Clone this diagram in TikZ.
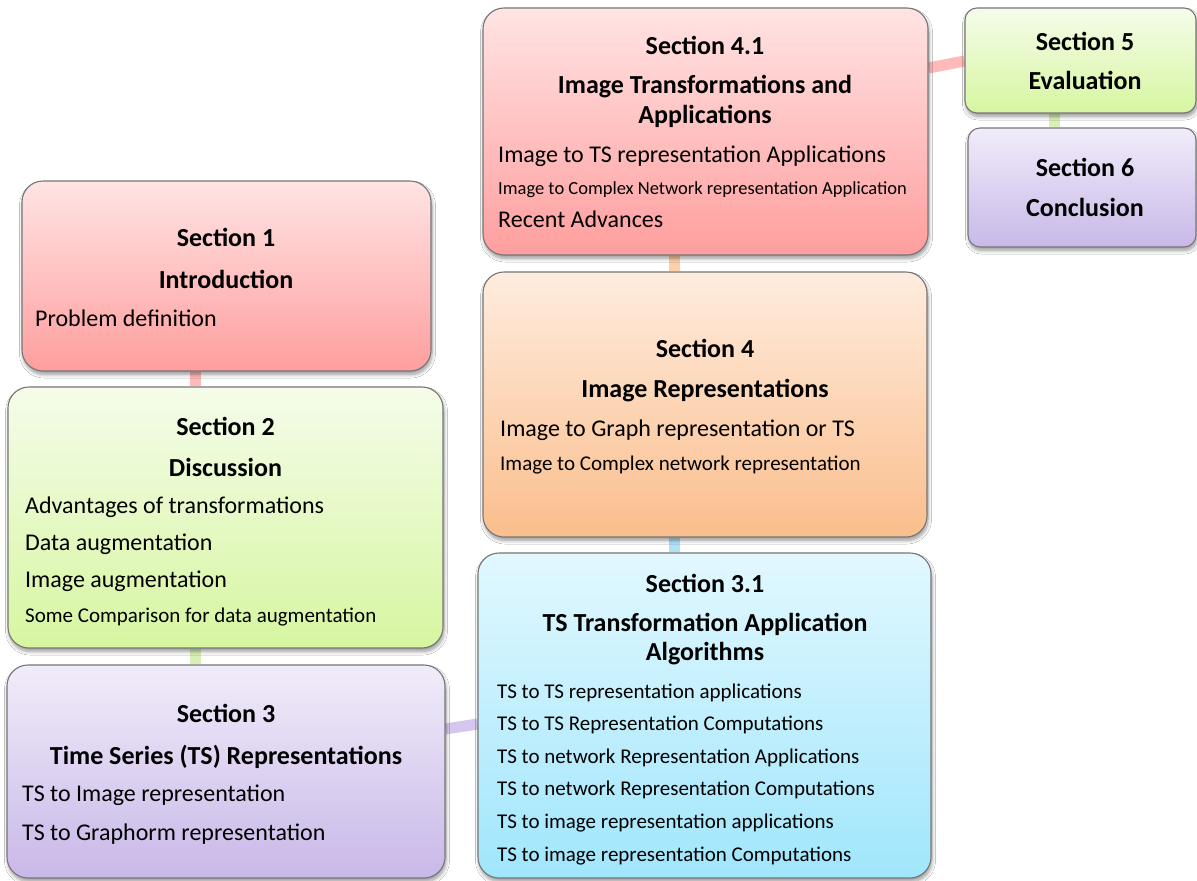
\documentclass[tikz,border=0pt]{standalone}
\usepackage{fontspec}
\setmainfont{Carlito}
\usetikzlibrary{calc,shadows.blur,backgrounds}

\newcommand\setfs[1]{\fontsize{#1pt}{#1pt}\selectfont}

% box fills (top -> bottom) and connector colours
\definecolor{redtop}{RGB}{255,228,228}
\definecolor{redbot}{RGB}{255,158,158}
\definecolor{greentop}{RGB}{245,252,234}
\definecolor{greenbot}{RGB}{214,246,160}
\definecolor{purpletop}{RGB}{241,236,250}
\definecolor{purplebot}{RGB}{200,184,232}
\definecolor{bluetop}{RGB}{226,248,255}
\definecolor{bluebot}{RGB}{160,230,252}
\definecolor{orangetop}{RGB}{255,236,222}
\definecolor{orangebot}{RGB}{250,190,140}
\definecolor{boxedge}{RGB}{118,118,118}
\definecolor{lnkpink}{RGB}{255,185,185}
\definecolor{lnkgreen}{RGB}{216,240,182}
\definecolor{lnkpurple}{RGB}{212,198,236}
\definecolor{lnkblue}{RGB}{176,226,246}
\definecolor{lnkpeach}{RGB}{255,208,168}

\tikzset{
  secbox/.style={draw=boxedge, line width=1.1pt, rounded corners=21pt, inner sep=0pt,
    blur shadow={shadow xshift=1pt, shadow yshift=-3.5pt, shadow blur radius=3.5pt,
      shadow opacity=40, shadow blur steps=8}},
  smallbox/.style={secbox, rounded corners=12pt},
  redfill/.style={top color=redtop, bottom color=redbot},
  greenfill/.style={top color=greentop, bottom color=greenbot},
  purplefill/.style={top color=purpletop, bottom color=purplebot},
  bluefill/.style={top color=bluetop, bottom color=bluebot},
  orangefill/.style={top color=orangetop, bottom color=orangebot},
  link/.style={line width=11pt},
  title/.style={anchor=base, font=\bfseries\setfs{26}, inner sep=0pt},
  item/.style={anchor=base west, font=\setfs{24}, inner sep=0pt},
  smallitem/.style={anchor=base west, font=\setfs{21}, inner sep=0pt},
  tinyitem/.style={anchor=base west, font=\setfs{18.5}, inner sep=0pt},
}

\begin{document}
\begin{tikzpicture}[x=1pt,y=-1pt]
\useasboundingbox (0,0) rectangle (1197,881);

% section boxes
\node[secbox,redfill,minimum width=409pt,minimum height=190pt] (s1) at (226.5,276) {};
\node[secbox,greenfill,minimum width=435pt,minimum height=261pt] (s2) at (225.5,517.5) {};
\node[secbox,purplefill,minimum width=438pt,minimum height=213pt] (s3) at (226,771.5) {};
\node[secbox,bluefill,minimum width=453pt,minimum height=325pt] (s31) at (704.5,715.5) {};
\node[secbox,orangefill,minimum width=444pt,minimum height=265pt] (s4) at (705,404.5) {};
\node[secbox,redfill,minimum width=445pt,minimum height=247pt] (s41) at (705.5,131.5) {};
\node[smallbox,greenfill,minimum width=231pt,minimum height=105pt] (s5) at (1080.5,60.5) {};
\node[smallbox,purplefill,minimum width=228pt,minimum height=119pt] (s6) at (1082,187.5) {};

% Section 1
\node[title] (s1h) at (226,246) {Section 1};
\node[title] (s1t) at (226,288) {Introduction};
\node[item] (s1a) at (35,326) {Problem definition};

% Section 2
\node[title] (s2h) at (225.5,435) {Section 2};
\node[title] (s2t) at (225.5,476) {Discussion};
\node[item] (s2a) at (25,513) {Advantages of transformations};
\node[item] (s2b) at (25,550) {Data augmentation};
\node[item] (s2c) at (25,587) {Image augmentation};
\node[smallitem] (s2d) at (25,622) {Some Comparison for data augmentation};

% Section 3
\node[title] (s3h) at (226,722.7) {Section 3};
\node[title] (s3t) at (226,764) {Time Series (TS) Representations};
\node[item] (s3a) at (22,801.7) {TS to Image representation};
\node[item] (s3b) at (22,840) {TS to Graphorm representation};

% Section 3.1
\node[title] (s31h) at (705,592.7) {Section 3.1};
\node[title] (s31t) at (705,631.7) {TS Transformation Application};
\node[title] (s31u) at (705,660.5) {Algorithms};
\node[smallitem] (s31a) at (497,698) {TS to TS representation applications};
\node[smallitem] (s31b) at (497,730.7) {TS to TS Representation Computations};
\node[smallitem] (s31c) at (497,763) {TS to network Representation Applications};
\node[smallitem] (s31d) at (497,795.7) {TS to network Representation Computations};
\node[smallitem] (s31e) at (497,828) {TS to image representation applications};
\node[smallitem] (s31f) at (497,861.7) {TS to image representation Computations};

% Section 4
\node[title] (s4h) at (705,357.3) {Section 4};
\node[title] (s4t) at (705,397.3) {Image Representations};
\node[item] (s4a) at (500,436) {Image to Graph representation or TS};
\node[smallitem] (s4b) at (500,470.7) {Image to Complex network representation};

% Section 4.1
\node[title] (s41h) at (705,54) {Section 4.1};
\node[title] (s41t) at (705,93.4) {Image Transformations and};
\node[title] (s41u) at (705,123) {Applications};
\node[item] (s41a) at (498,162) {Image to TS representation Applications};
\node[tinyitem] (s41b) at (498,194) {Image to Complex Network representation Application};
\node[item] (s41c) at (498,227.7) {Recent Advances};

% Sections 5 and 6
\node[title] (s5h) at (1085,50) {Section 5};
\node[title] (s5t) at (1085,89.3) {Evaluation};
\node[title] (s6h) at (1085,176) {Section 6};
\node[title] (s6t) at (1085,216) {Conclusion};

% connectors behind the boxes
\begin{scope}[on background layer]
\fill[white] (0,0) rectangle (1197,881);
\draw[link,lnkpink] ([xshift=-31.5pt]s1.south) -- ([xshift=-30.5pt]s2.north);
\draw[link,lnkgreen] ([xshift=-30.5pt]s2.south) -- ([xshift=-31pt]s3.north);
\draw[link,lnkpurple] ([yshift=42.5pt]s3.east) -- ([yshift=-8.5pt]s31.west);
\draw[link,lnkblue] ([xshift=-30.5pt]s31.north) -- ([xshift=-31pt]s4.south);
\draw[link,lnkpeach] ([xshift=-31pt]s4.north) -- ([xshift=-31.5pt]s41.south);
\draw[link,lnkpink] ([yshift=63.5pt]s41.east) -- ([yshift=-0.5pt]s5.west);
\draw[link,lnkgreen] ([xshift=-26.5pt]s5.south) -- ([xshift=-28pt]s6.north);
\end{scope}
\end{tikzpicture}
\end{document}
